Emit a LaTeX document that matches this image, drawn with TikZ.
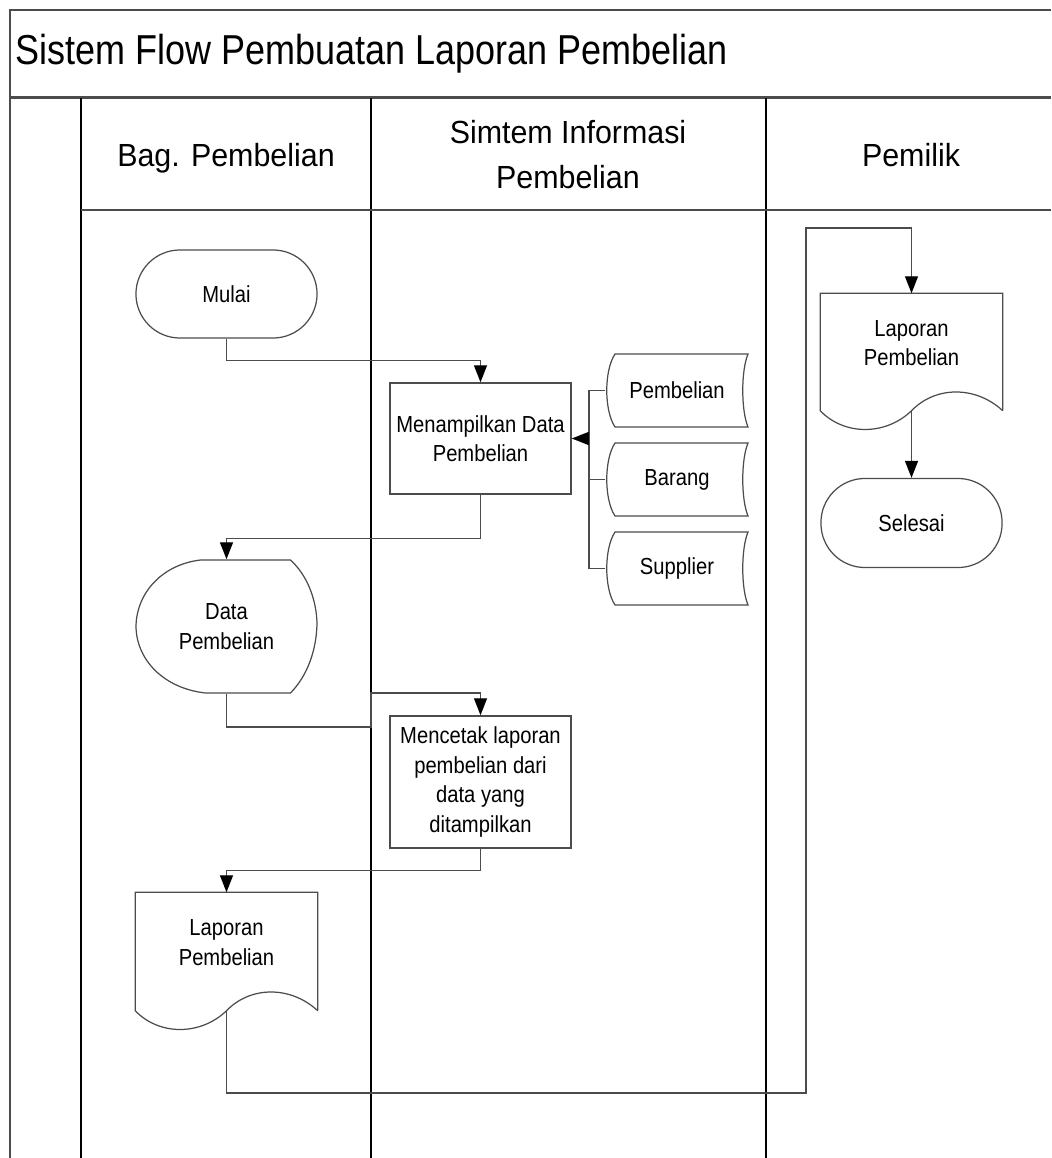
\documentclass[tikz,border=0pt]{standalone}
\usepackage{fontspec}
\usepackage{tikz}
\usetikzlibrary{arrows.meta,calc}
\newfontfamily\titlefont[FakeStretch=0.86]{Liberation Sans}
\newfontfamily\headfont[FakeStretch=0.95]{Liberation Sans}
\newfontfamily\bodyfont[FakeStretch=0.87]{Liberation Sans}
\definecolor{garis}{rgb}{0.3, 0.3, 0.3}
\tikzstyle{every picture}=[line join=miter]

\begin{document}
\begin{tikzpicture}[x=0.01cm,y=-0.01cm]

\useasboundingbox (0,0) rectangle (1051,1158);

  \tikzset{lane/.style={draw=black, line width=0.3pt}}
  \tikzset{frame/.style={draw=garis, line width=0.5pt}}
  \tikzset{body/.style={font=\bodyfont\fontsize{6.6}{8.4}\selectfont, align=center, inner sep=0pt}}
  \tikzset{term/.style={body, draw=garis, line width=0.35pt, rounded corners=0.44cm, minimum width=1.81cm, minimum height=0.88cm}}
  \tikzset{proc/.style={body, draw=garis, line width=0.4pt, minimum width=1.81cm}}
  \tikzset{symbol/.style={body, minimum width=1.81cm}}
  \tikzset{store/.style={body, minimum width=1.42cm, minimum height=0.73cm}}
  \tikzset{outline/.style={draw=garis, line width=0.35pt}}
  \tikzset{conn/.style={draw=garis, line width=0.4pt}}
  \tikzset{flow/.style={conn, -{Triangle[length=0.17cm,width=0.13cm,color=black]}}}

% frame and lanes
\draw[frame] (1051,10) -- (10,10) -- (10,1158);
\draw[frame, line width=0.8pt] (10,97.5) -- (1051,97.5);
\draw[lane] (81,98) -- (81,1158);
\draw[lane] (371,98) -- (371,1158);
\draw[lane] (766,98) -- (766,1158);
\draw[frame] (81,210) -- (1051,210);

\node[anchor=base west, font=\titlefont\fontsize{11.9}{14}\selectfont, inner sep=0pt] (judul) at (15,65) {Sistem Flow Pembuatan Laporan Pembelian};

\node[font=\headfont\fontsize{9.1}{12.8}\selectfont, align=center] (hbag) at (226,158) {Bag. Pembelian};
\node[font=\headfont\fontsize{9.1}{12.8}\selectfont, align=center] (hsis) at (568,155) {Simtem Informasi\\Pembelian};
\node[font=\headfont\fontsize{9.1}{12.8}\selectfont, align=center] (hpem) at (911,155) {Pemilik};

% symbols
\node[term] (mulai) at (226.5,294) {Mulai};
\node[proc, minimum height=1.11cm] (tampil) at (480.5,438.5) {Menampilkan Data\\Pembelian};
\node[store] (spb) at (677,390.5) {Pembelian};
\node[store] (sbr) at (677,479.5) {Barang};
\node[store] (ssp) at (677,568.5) {Supplier};
\node[symbol, minimum height=1.33cm] (dpb) at (226.5,626.5) {Data\\Pembelian};
\node[proc, minimum height=1.32cm] (cetak) at (480.5,782) {Mencetak laporan\\pembelian dari\\data yang\\ditampilkan};
\node[symbol, minimum height=1.17cm, text depth=5pt] (lpb) at (226.5,951.5) {Laporan\\Pembelian};
\node[symbol, minimum height=1.16cm, text depth=5pt] (lpm) at (911.5,352) {Laporan\\Pembelian};
\node[term, minimum height=0.89cm] (selesai) at (911.5,523) {Selesai};

\draw[outline, shift={(spb)}] (-62,-36.5) -- (71,-36.5) .. controls (64,-20) and (64,20) .. (71,36.5) -- (-62,36.5) .. controls (-73,20) and (-73,-20) .. (-62,-36.5) -- cycle;
\draw[outline, shift={(sbr)}] (-62,-36.5) -- (71,-36.5) .. controls (64,-20) and (64,20) .. (71,36.5) -- (-62,36.5) .. controls (-73,20) and (-73,-20) .. (-62,-36.5) -- cycle;
\draw[outline, shift={(ssp)}] (-62,-36.5) -- (71,-36.5) .. controls (64,-20) and (64,20) .. (71,36.5) -- (-62,36.5) .. controls (-73,20) and (-73,-20) .. (-62,-36.5) -- cycle;

\draw[outline, shift={(dpb)}] (-26,-66.5) -- (64,-66.5) .. controls (82,-50) and (90,-25) .. (90.5,-3) .. controls (90,22) and (82,48) .. (64,66.5) -- (-21,66.5) .. controls (-62,62) and (-90,34) .. (-90.5,0) .. controls (-90,-34) and (-64,-62) .. (-26,-66.5) -- cycle;

\draw[outline] (lpb.south east) -- (lpb.north east) -- (lpb.north west) -- (lpb.south west) .. controls +(24,25) and +(-26,25) .. (lpb.south) .. controls +(24,-25) and +(-27,-25) .. (lpb.south east);
\draw[outline] (lpm.south east) -- (lpm.north east) -- (lpm.north west) -- (lpm.south west) .. controls +(24,25) and +(-26,25) .. (lpm.south) .. controls +(24,-25) and +(-27,-25) .. (lpm.south east);

% connectors
\coordinate (bus) at (589,438.5);
\coordinate (j1) at (371,727);
\coordinate (j2) at (371,693);
\coordinate (k1) at (806,1093);
\coordinate (k2) at (806,228);

\draw[flow] (mulai.south) -- ++(0,22) -| (tampil.north);
\draw[conn] (spb.west) -| (bus);
\draw[conn] (ssp.west) -| (bus);
\draw[conn] (sbr.west) -- (sbr.west -| bus);
\draw[flow] (bus) -- (tampil.east);
\draw[flow] (tampil.south) -- ++(0,44) -| (dpb.north);
\draw[flow] (dpb.south) |- (j1) -- (j2) -| (cetak.north);
\draw[flow] (cetak.south) -- ++(0,22) -| (lpb.north);
\draw[flow] (lpb.south) |- (k1) -- (k2) -| (lpm.north);
\draw[flow] (lpm.south) -- (selesai.north);

\end{tikzpicture}
\end{document}
